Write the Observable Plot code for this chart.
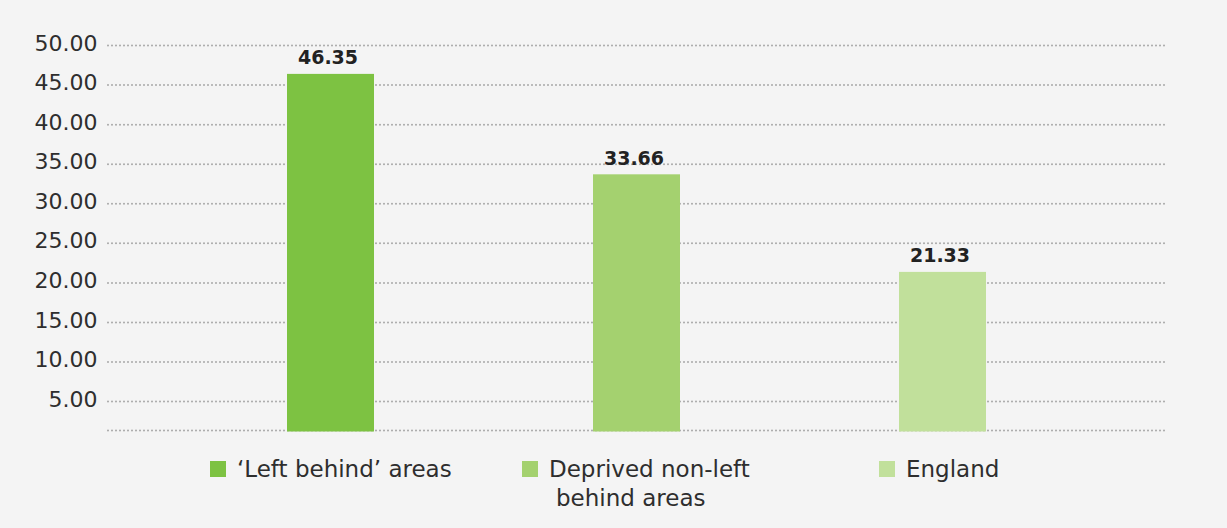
<!DOCTYPE html>
<html>
<head>
<meta charset="utf-8">
<script src="https://cdn.jsdelivr.net/npm/d3@7"></script>
<script src="https://cdn.jsdelivr.net/npm/@observablehq/plot@0.6"></script>
<style>
  html, body { margin: 0; padding: 0; background: #f4f4f4; }
  #wrap { position: relative; width: 1227px; height: 528px; background: #f4f4f4; overflow: hidden;
          font-family: "DejaVu Sans", sans-serif; color: #2e2e2e; }
  #legend { position: relative; height: 88px; font-size: 23px; line-height: 29px; }
  .item { position: absolute; top: 14px; }
  .sw { position: absolute; width: 16px; height: 16px; top: 5.5px; }
  .lbl { position: absolute; left: 27px; max-width: 225px; white-space: normal; padding-left: 7px; text-indent: -7px; }
  svg { display: block; }
</style>
</head>
<body>
<div id="wrap">
  <div id="chart"></div>
  <div id="legend"></div>
</div>
<script>
const categories = ["\u2018Left behind\u2019 areas", "Deprived non-left behind areas", "England"];
const values = [46.35, 33.66, 21.33];
const colors = ["#7dc242", "#a4d16f", "#c1e09b"];
const yTicks = [5, 10, 15, 20, 25, 30, 35, 40, 45, 50];
const legendLeft = [210, 522, 879];

const data = categories.map((c, i) => ({category: c, value: values[i]}));

const chart = Plot.plot({
  width: 1227,
  height: 441,
  marginTop: 45,
  marginBottom: 11,
  marginLeft: 108,
  marginRight: 62,
  style: {background: "#f4f4f4", fontFamily: "DejaVu Sans, sans-serif", fontSize: "22px", color: "#2e2e2e"},
  x: {domain: categories, paddingInner: 0.716, paddingOuter: 0.5825, axis: null},
  y: {domain: [1.35, 50], clamp: true},
  color: {domain: categories, range: colors},
  marks: [
    Plot.ruleY([0, ...yTicks], {stroke: "#a8a8a8", strokeWidth: 2, strokeDasharray: "0,4", strokeLinecap: "round"}),
    Plot.barY(data, {x: "category", y1: 0, y2: "value", fill: "category", insetBottom: -1.5}),
    Plot.text(data, {x: "category", y: "value", text: d => d.value.toFixed(2), lineAnchor: "bottom", dy: -10,
      fontWeight: "bold", fontSize: 19, fill: "#222", dx: -3}),
    Plot.axisY({ticks: yTicks, tickFormat: d => d.toFixed(2), tickSize: 0, tickPadding: 11, fontSize: 22, dy: -2, label: null})
  ]
});
document.getElementById("chart").appendChild(chart);

const legend = document.getElementById("legend");
categories.forEach((c, i) => {
  const item = document.createElement("div");
  item.className = "item";
  item.style.left = legendLeft[i] + "px";
  const sw = document.createElement("div");
  sw.className = "sw";
  sw.style.background = colors[i];
  const lbl = document.createElement("div");
  lbl.className = "lbl";
  lbl.textContent = c;
  lbl.style.width = "max-content";
  item.appendChild(sw);
  item.appendChild(lbl);
  legend.appendChild(item);
});
</script>
</body>
</html>
